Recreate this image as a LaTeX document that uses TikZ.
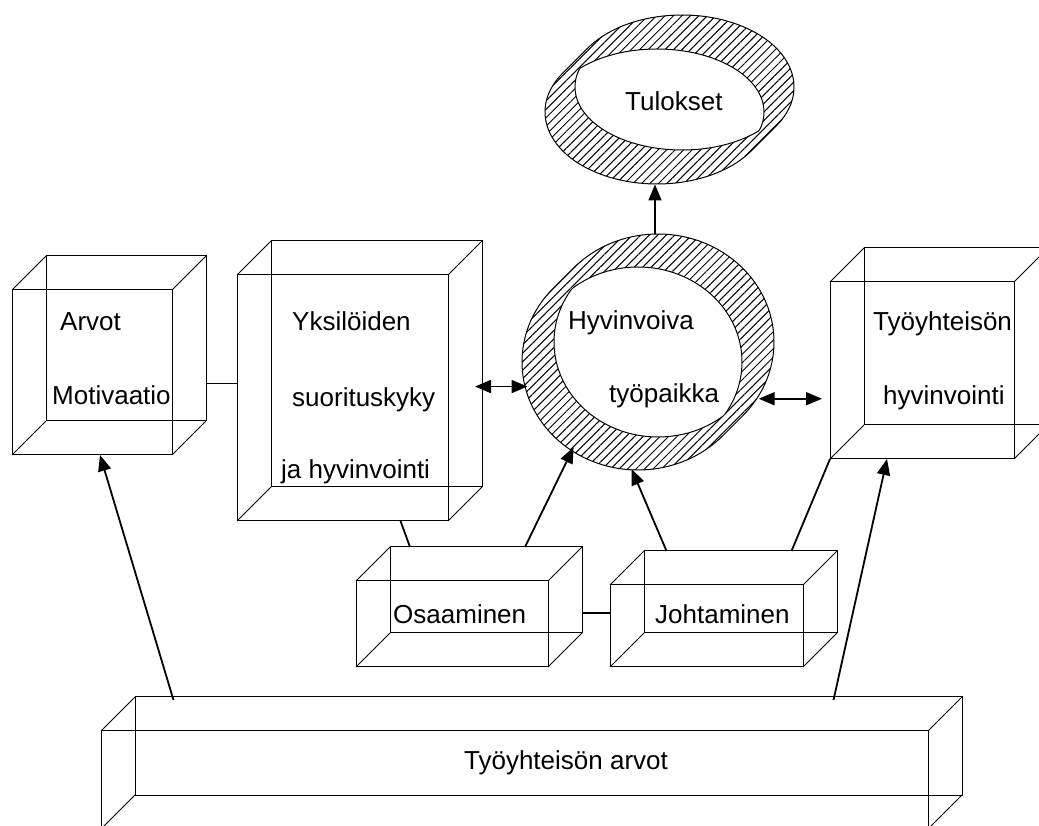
\documentclass[tikz,border=0pt]{standalone}
\usepackage{fontspec}
\setmainfont{Liberation Sans}
\usepackage{tikz}
\usetikzlibrary{arrows.meta,shapes.geometric,patterns.meta,calc}
\tikzset{>={Triangle[length=16pt,width=13pt]}}
\tikzset{%
    face/.style={draw, line width=1pt, inner sep=0pt, outer sep=0pt},
    lbl/.style={inner sep=0pt, anchor=base west, font=\fontsize{26}{30}\selectfont},
    hatch/.style={draw, line width=1pt, pattern={Lines[angle=45,distance=6pt,line width=1pt]}},
    blob/.style={ellipse, inner sep=0pt, outer sep=0pt},
    conn/.style={line width=1.8pt}
}
% box: front face (#1) and back face (#1-b)
\newcommand{\cuboid}[4]{%
    \node[face, minimum width=#3, minimum height=#4] (#1) at #2 {};
    \node[face, minimum width=#3, minimum height=#4] (#1-b) at ([shift={(34,34)}]#1.center) {};
    \foreach \c in {north west,north east,south west,south east}
        \draw[line width=1pt] (#1.\c) -- (#1-b.\c);
}
% hatched ring: front centre, radii, hole radii, depth
\newcommand{\ring}[6]{%
    \pgfmathsetmacro{\tang}{atan(#3/#2)}
    \draw[hatch] #1 ++(180-\tang:#2 and #3)
        arc[start angle=180-\tang, end angle=360-\tang, x radius=#2, y radius=#3]
        -- ++(#6,#6)
        arc[start angle=-\tang, end angle=180-\tang, x radius=#2, y radius=#3] -- cycle;
    \begin{scope}
    \clip #1 ellipse[x radius=#4, y radius=#5];
    \filldraw[fill=white, line width=1pt] #1 ++(#6,#6) ellipse[x radius=#4, y radius=#5];
    \end{scope}
    \begin{scope}
    \clip #1 ++(#6,#6) ellipse[x radius=#4, y radius=#5];
    \draw[line width=1pt] #1 ellipse[x radius=#4, y radius=#5];
    \end{scope}
}

\begin{document}
\begin{tikzpicture}[x=1pt, y=1pt]
\useasboundingbox (0,0) rectangle (1039,825);
\clip (0,0) rectangle (1039,825);

\cuboid{arvot}{(92,452.5)}{160pt}{165pt}
\cuboid{yks}{(342.5,427)}{211pt}{246pt}
\cuboid{tyo}{(922,454.5)}{184pt}{177pt}
\cuboid{osa}{(452,201)}{192pt}{86pt}
\cuboid{joh}{(706.5,199)}{193pt}{82pt}
\cuboid{yht}{(514.5,45)}{827pt}{98pt}

\ring{(638,463)}{116}{108}{104}{95}{20}
\ring{(657,713)}{112}{72}{107}{63}{25}
\node[blob, minimum width=252pt, minimum height=236pt] (hyv) at (648,473) {};
\node[blob, minimum width=248pt, minimum height=170pt] (tul) at (669.5,725.5) {};

\node[lbl] (t-arv) at (60,494) {Arvot};
\node[lbl] (t-mot) at (52,420) {Motivaatio};
\node[lbl] (t-yks) at (292,494) {Yksilöiden};
\node[lbl] (t-suo) at (292,418) {suorituskyky};
\node[lbl] (t-ja) at (281,346) {ja hyvinvointi};
\node[lbl] (t-hyv) at (568,495) {Hyvinvoiva};
\node[lbl] (t-tyop) at (609,422) {työpaikka};
\node[lbl] (t-tul) at (625,714) {Tulokset};
\node[lbl] (t-tyo) at (873,494) {Työyhteisön};
\node[lbl] (t-hv) at (883,420) {hyvinvointi};
\node[lbl] (t-osa) at (393,201) {Osaaminen};
\node[lbl] (t-joh) at (655,201) {Johtaminen};
\node[lbl, anchor=base] (t-yht) at (566,56) {Työyhteisön arvot};

\coordinate (a-y) at ($(arvot.east)+(0,-11)$);
\draw[conn] (a-y -| arvot-b.east) -- (a-y -| yks.west);
\draw[conn,<->] ($(yks-b.east |- hyv.196)+(-7,0)$) -- (hyv.196);
\draw[conn,<->] ($(hyv.338)+(-5,0)$) -- ($(hyv.338 -| tyo.west)+(-8,0)$);
\coordinate (h-t) at ($(hyv.north)+(7,0)$);
\draw[conn,->] (h-t) -- (h-t |- tul.south);
\draw[conn,->] ($(osa-b.north)+(39,0)$) -- (hyv.232);
\draw[conn,->] ($(joh-b.north)+(-74,0)$) -- (hyv.262);
\draw[conn] ($(joh-b.north)+(51,0)$) -- (tyo.south west);
\draw[conn] ($(yks.south)+(58,0)$) -- ($(osa-b.north)+(-76,0)$);
\coordinate (o-j) at ($(osa.east)+(0,11)$);
\draw[conn] (o-j -| osa-b.east) -- (o-j -| joh.west);
\draw[conn,->] ($(yht-b.north)+(-375,-3)$) -- ($(arvot.south)+(8,0)$);
\draw[conn,->] ($(yht-b.north)+(285,-3)$) -- ($(tyo.south)+(-35,0)$);
\end{tikzpicture}
\end{document}
